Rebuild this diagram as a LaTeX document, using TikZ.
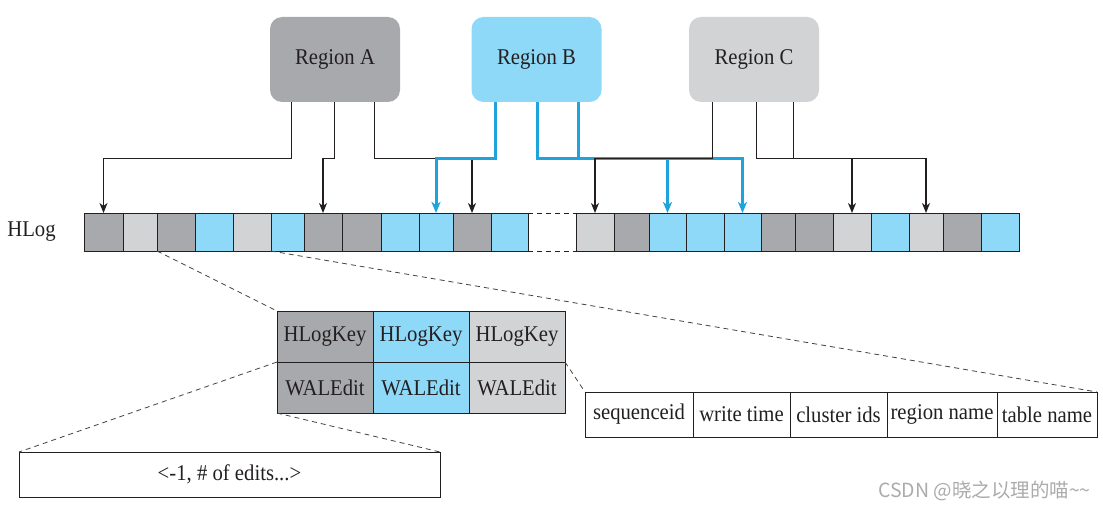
\documentclass[tikz,border=0pt]{standalone}
\usepackage{fontspec}
\setmainfont{Liberation Serif}[FakeStretch=0.92]
\newfontfamily\cjkfont{Noto Sans CJK SC}
\usetikzlibrary{arrows.meta,calc}
\definecolor{dg}{HTML}{A7A9AC}
\definecolor{lg}{HTML}{D1D3D4}
\definecolor{bl}{HTML}{8ED8F8}
\definecolor{bline}{HTML}{1FA3DC}
\definecolor{ink}{HTML}{231F20}
\definecolor{wmc}{HTML}{ABABAB}
\tikzset{
  region/.style={rounded corners=12pt, minimum width=130pt, minimum height=85pt, inner sep=0pt, text=ink},
  cell/.style={draw=ink, line width=1pt, minimum height=38pt, inner sep=0pt, outer sep=0pt},
  tcell/.style={draw=ink, line width=1pt, minimum width=96pt, minimum height=51pt, inner sep=0pt, outer sep=0pt, text=ink},
  rcell/.style={draw=ink, line width=1pt, minimum height=45pt, inner sep=0pt, outer sep=0pt, text=ink},
  blk/.style={draw=ink, line width=1.2pt, -{Stealth[length=10pt,width=8pt,inset=3pt]}},
  blu/.style={draw=bline, line width=3pt, -{Stealth[length=11pt,width=9pt,inset=3pt]}},
  dsh/.style={draw=ink!85, line width=0.8pt, dash pattern=on 5pt off 4pt},
}
\begin{document}
\begin{tikzpicture}[x=1pt,y=-1pt,font=\fontsize{22.5}{26}\selectfont]
\useasboundingbox (0,0) rectangle (1103,508);
% regions
\node[region,fill=dg] (regA) at (335,59.5) {Region A};
\node[region,fill=bl] (regB) at (536.5,59.5) {Region B};
\node[region,fill=lg] (regC) at (754,59.5) {Region C};
% HLog
\node[text=ink] (hlog) at (31.5,232) {HLog};
\foreach \n/\l/\r/\c in {1/84/123/dg,2/123/157/lg,3/157/195/dg,4/195/233/bl,5/233/271/lg,6/271/304/bl,7/304/342/dg,8/342/381/dg,9/381/419/bl,10/419/453/bl,11/453/491/dg,12/491/528/bl,14/576/614/lg,15/614/649/dg,16/649/686/bl,17/686/724/bl,18/724/761/bl,19/761/795/dg,20/795/833/dg,21/833/871/lg,22/871/909/bl,23/909/943/lg,24/943/981/dg,25/981/1019/bl}
  \node[cell,fill=\c,minimum width={\r-\l}] (c\n) at ({(\l+\r)/2},232) {};
\node[cell,draw=none,minimum width=48pt] (c13) at (552,232) {};
\draw[dsh,draw=ink,line width=1pt] (c13.north west) -- (c13.north east);
\draw[dsh,draw=ink,line width=1pt] (c13.south west) -- (c13.south east);
% Region A connectors
\draw[blk] ([xshift=22pt]regA.south west) -- ++(0,56) -| (c1.north);
\draw[blk] ([xshift=65pt]regA.south west) -- ++(0,56) -| (c7.north);
\draw[blk] ([xshift=105pt]regA.south west) -- ++(0,56) -| (c11.north);
% Region B connectors
\draw[blu] ([xshift=24pt]regB.south west) -- ++(0,56) -| (c10.north);
\draw[blu] ([xshift=66pt]regB.south west) -- ++(0,56) -| (c18.north);
\draw[blu,-] ([xshift=107pt]regB.south west) -- ++(0,56);
\coordinate (bj) at ([xshift=66pt,yshift=-56pt]regB.south west);
\draw[blu] (bj -| c16.north) -- (c16.north);
% Region C connectors
\draw[blk] ([xshift=24pt]regC.south west) -- ++(0,56) -| (c14.north);
\draw[blk] ([xshift=68pt]regC.south west) -- ++(0,56) -| (c23.north);
\draw[blk,-] ([xshift=105pt]regC.south west) -- ++(0,56);
\coordinate (cj) at ([xshift=68pt,yshift=-56pt]regC.south west);
\draw[blk] (cj -| c21.north) -- (c21.north);
% entry table
\node[tcell,fill=dg] (t11) at (325,336.5) {HLogKey};
\node[tcell,fill=bl] (t12) at (421,336.5) {HLogKey};
\node[tcell,fill=lg] (t13) at (517,336.5) {HLogKey};
\node[tcell,fill=dg] (t21) at (325,387.5) {WALEdit};
\node[tcell,fill=bl] (t22) at (421,387.5) {WALEdit};
\node[tcell,fill=lg] (t23) at (517,387.5) {WALEdit};
% key fields
\node[rcell,minimum width=108pt] (r1) at (639,414.5) {sequenceid};
\node[rcell,minimum width=97pt] (r2) at (741.5,414.5) {write time};
\node[rcell,minimum width=97pt] (r3) at (838.5,414.5) {cluster ids};
\node[rcell,minimum width=110pt] (r4) at (942,414.5) {region name};
\node[rcell,minimum width=100pt] (r5) at (1047,414.5) {table name};
% edit box
\node[rcell,minimum width=421pt] (bot) at (229.5,474.5) {<-1, \# of edits...>};
% dashed zoom lines
\draw[dsh] (c3.south west) -- (t11.north west);
\draw[dsh] (c6.south west) -- (r5.north east);
\draw[dsh] (t21.north west) -- (bot.north west);
\draw[dsh] (t21.south west) -- (bot.north east);
\draw[dsh] (t23.north east) -- (r1.north west);
% watermark
\node[anchor=base east,text=wmc,inner sep=0pt,font=\cjkfont\fontsize{19.5}{20}\selectfont] (wm) at (1091,497) {CSDN @晓之以理的喵\textasciitilde\textasciitilde};
\end{tikzpicture}
\end{document}
